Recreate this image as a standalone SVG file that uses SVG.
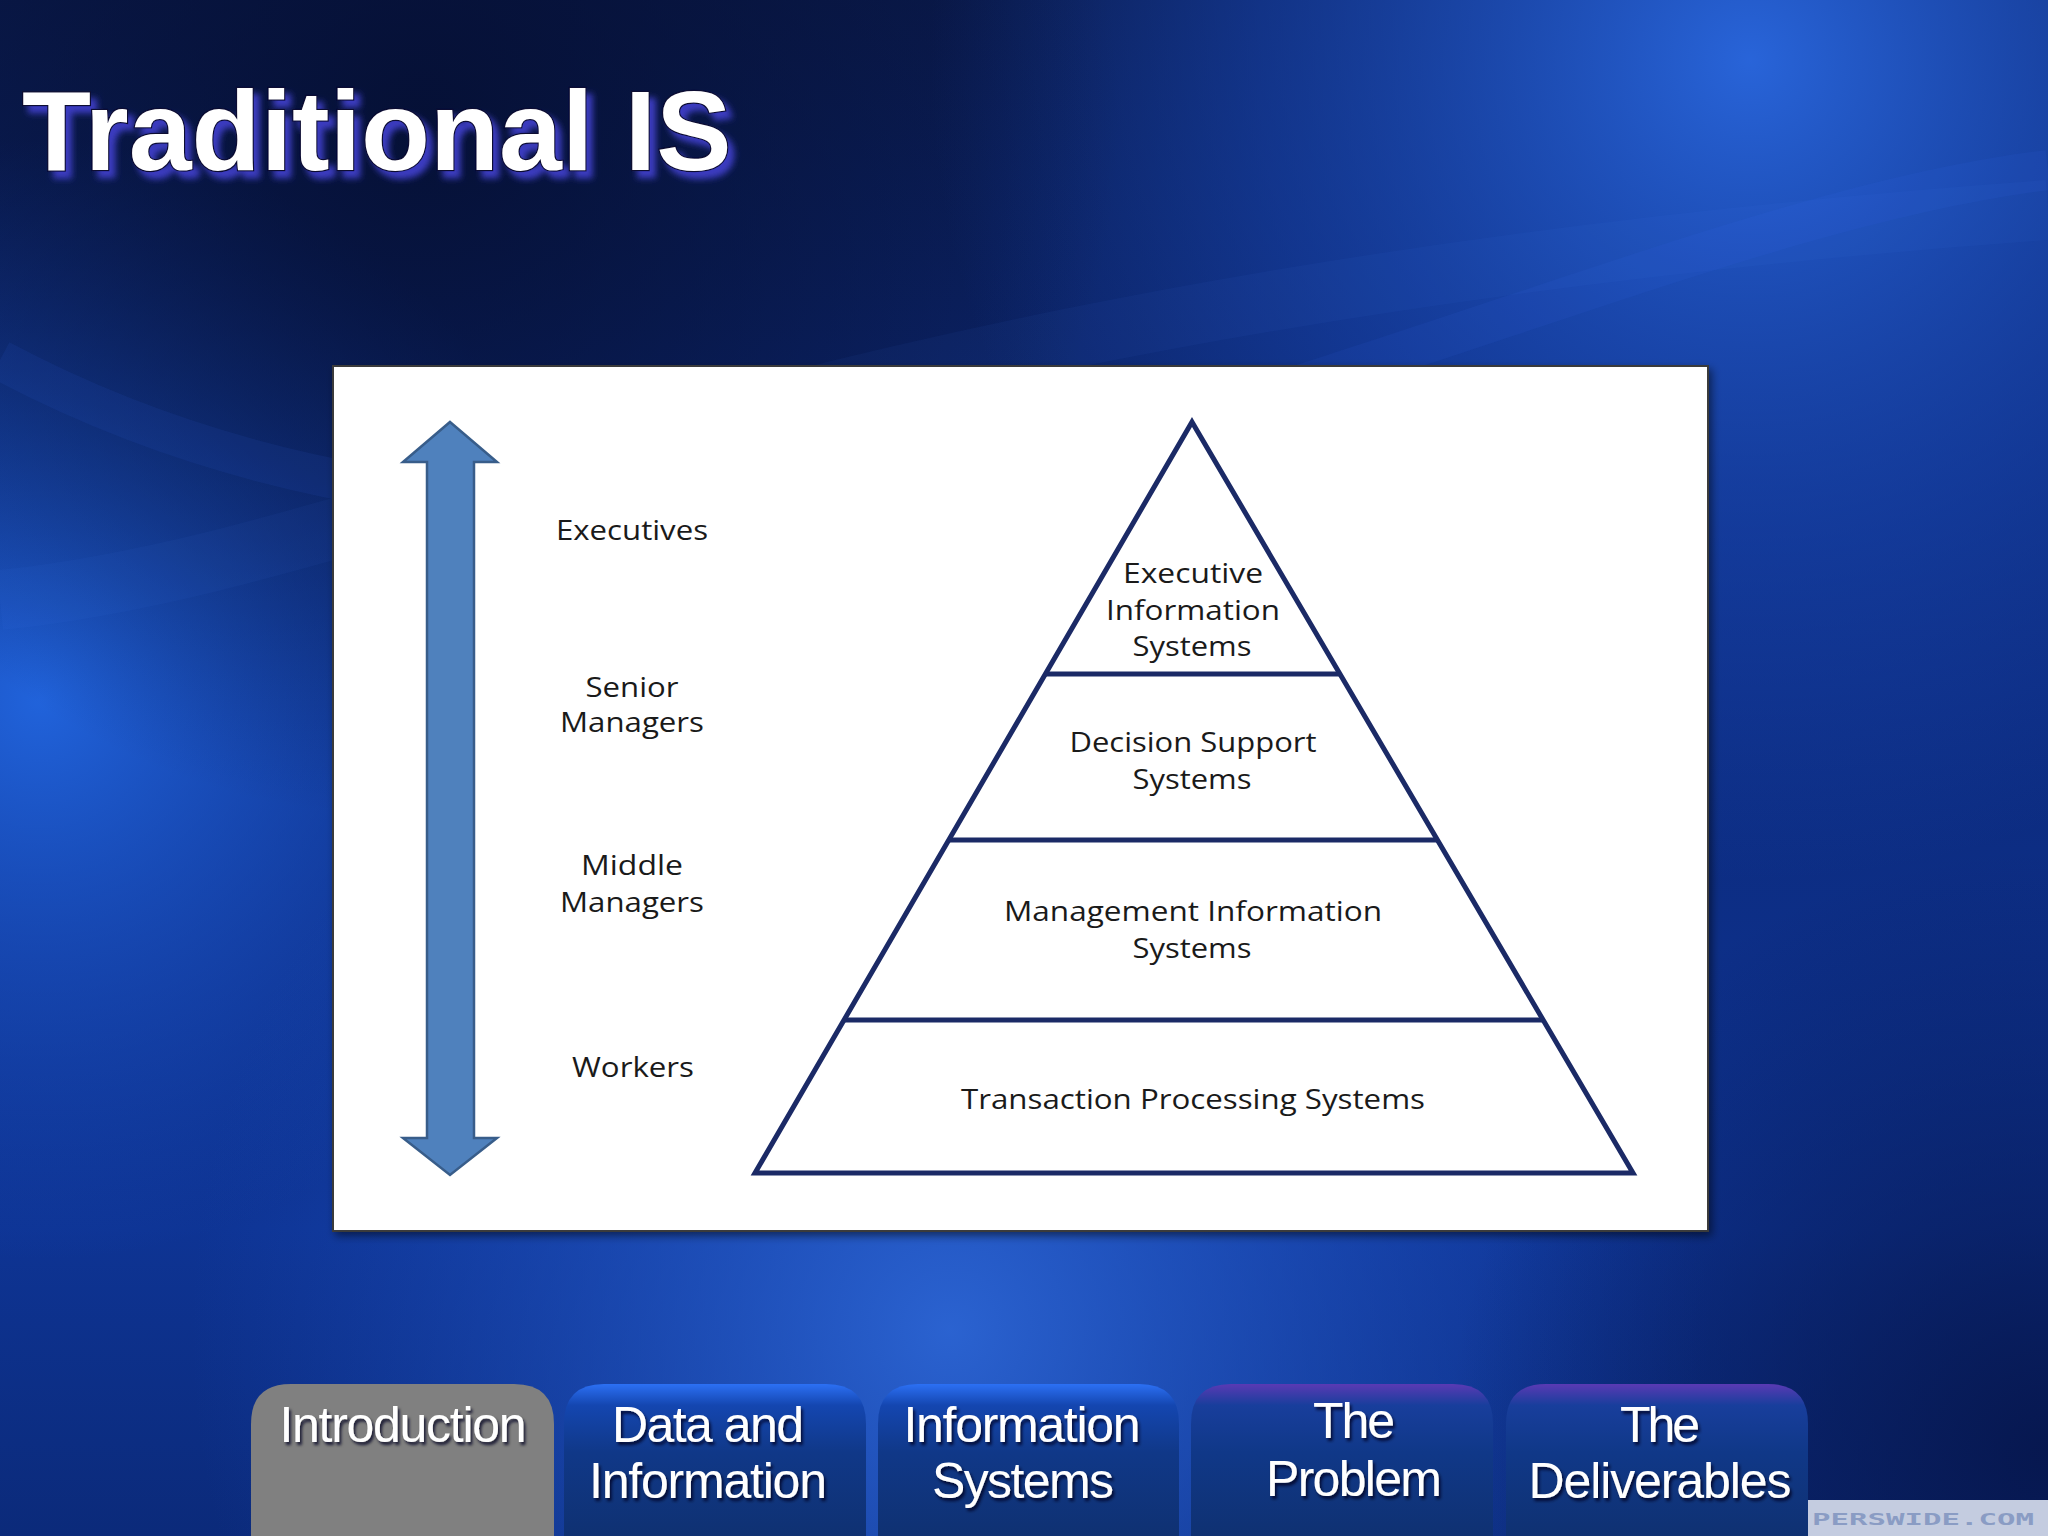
<svg xmlns="http://www.w3.org/2000/svg" width="2048" height="1536" viewBox="0 0 2048 1536">
<defs>
<linearGradient id="bgBase" x1="0" y1="0" x2="0" y2="1">
<stop offset="0" stop-color="#0a1a4c"/>
<stop offset="0.45" stop-color="#0c2a7c"/>
<stop offset="0.8" stop-color="#0e3494"/>
<stop offset="1" stop-color="#0b2a7a"/>
</linearGradient>
<radialGradient id="glowTR" cx="1750" cy="60" r="820" gradientUnits="userSpaceOnUse">
<stop offset="0" stop-color="#2a68e0" stop-opacity="0.95"/>
<stop offset="0.6" stop-color="#1a4cc0" stop-opacity="0.5"/>
<stop offset="1" stop-color="#1a4cc0" stop-opacity="0"/>
</radialGradient>
<radialGradient id="glowL" cx="40" cy="700" r="560" gradientUnits="userSpaceOnUse">
<stop offset="0" stop-color="#2266e0" stop-opacity="0.95"/>
<stop offset="1" stop-color="#1a50c8" stop-opacity="0"/>
</radialGradient>
<radialGradient id="glowB" cx="950" cy="1330" r="760" gradientUnits="userSpaceOnUse">
<stop offset="0" stop-color="#2e68d8" stop-opacity="0.9"/>
<stop offset="1" stop-color="#1a4cc0" stop-opacity="0"/>
</radialGradient>
<radialGradient id="darkTL" cx="420" cy="120" r="700" gradientUnits="userSpaceOnUse">
<stop offset="0" stop-color="#050f33" stop-opacity="0.9"/>
<stop offset="1" stop-color="#050f33" stop-opacity="0"/>
</radialGradient>
<radialGradient id="darkBR" cx="2048" cy="1450" r="600" gradientUnits="userSpaceOnUse">
<stop offset="0" stop-color="#06154a" stop-opacity="0.9"/>
<stop offset="1" stop-color="#06154a" stop-opacity="0"/>
</radialGradient>
<linearGradient id="tabBlue" x1="0" y1="0" x2="0" y2="1">
<stop offset="0" stop-color="#2c70f4"/>
<stop offset="0.14" stop-color="#1446b0"/>
<stop offset="0.45" stop-color="#103888"/>
<stop offset="1" stop-color="#0f3172"/>
</linearGradient>
<linearGradient id="tabPurple" x1="0" y1="0" x2="0" y2="1">
<stop offset="0" stop-color="#5a3ab4"/>
<stop offset="0.14" stop-color="#183e9c"/>
<stop offset="0.45" stop-color="#103888"/>
<stop offset="1" stop-color="#0f3172"/>
</linearGradient>
<filter id="titleShadow" x="-10%" y="-30%" width="120%" height="160%">
<feGaussianBlur in="SourceAlpha" stdDeviation="3"/>
<feOffset dx="6" dy="7" result="b"/>
<feFlood flood-color="#3c3cc0"/>
<feComposite in2="b" operator="in"/>
<feMerge><feMergeNode/><feMergeNode in="SourceGraphic"/></feMerge>
</filter>
<filter id="tabShadow" x="-10%" y="-30%" width="120%" height="160%">
<feGaussianBlur in="SourceAlpha" stdDeviation="1.5"/>
<feOffset dx="2" dy="3" result="b"/>
<feFlood flood-color="#000820" flood-opacity="0.8"/>
<feComposite in2="b" operator="in"/>
<feMerge><feMergeNode/><feMergeNode in="SourceGraphic"/></feMerge>
</filter>
<filter id="panelShadow" x="-5%" y="-5%" width="110%" height="110%">
<feGaussianBlur in="SourceAlpha" stdDeviation="4"/>
<feOffset dx="3" dy="4" result="b"/>
<feFlood flood-color="#000000" flood-opacity="0.5"/>
<feComposite in2="b" operator="in"/>
<feMerge><feMergeNode/><feMergeNode in="SourceGraphic"/></feMerge>
</filter>
</defs>
<style>
.title{font-family:"Liberation Sans",Arial,sans-serif;font-weight:bold;font-size:113px;fill:#ffffff;stroke:#0a0a30;stroke-width:2.5px;paint-order:stroke}
.lbl{font-family:"Open Sans","Noto Sans",sans-serif;font-size:28px;fill:#1a1a1a;text-anchor:middle}
.pyt{font-family:"Open Sans","Noto Sans",sans-serif;font-size:27px;fill:#1a1a1a;text-anchor:middle}
.tier{fill:none;stroke:#1b2a66;stroke-width:5px}
.tabt{font-family:"Liberation Sans",Arial,sans-serif;font-size:50px;fill:#ffffff;text-anchor:middle}
</style>

<!-- background -->
<rect x="0" y="0" width="2048" height="1536" fill="url(#bgBase)"/>
<rect x="0" y="0" width="2048" height="1536" fill="url(#glowTR)"/>
<rect x="0" y="0" width="2048" height="1536" fill="url(#glowL)"/>
<rect x="0" y="0" width="2048" height="1536" fill="url(#glowB)"/>
<rect x="0" y="0" width="2048" height="1536" fill="url(#darkTL)"/>
<rect x="0" y="0" width="2048" height="1536" fill="url(#darkBR)"/>
<path d="M0,360 C300,520 700,560 1150,430 C1500,330 1800,200 2048,170" fill="none" stroke="#3a78ff" stroke-opacity="0.08" stroke-width="40"/>
<path d="M0,600 C400,560 800,300 2048,210" fill="none" stroke="#5090ff" stroke-opacity="0.05" stroke-width="60"/>

<!-- title -->
<g id="title">
<text class="title" x="22" y="170" filter="url(#titleShadow)">Traditional IS</text>
</g>

<!-- panel -->
<g id="panel">
<rect x="333" y="366" width="1375" height="865" fill="#ffffff" stroke="#3a3a3a" stroke-width="2" filter="url(#panelShadow)"/>
</g>

<!-- double arrow -->
<g id="arrow">
<polygon points="450,422 497,462 474,462 474,1138 497,1138 450,1175 403,1138 427,1138 427,462 403,462" fill="#4f81bd" stroke="#385d8a" stroke-width="2.5" stroke-linejoin="miter"/>
</g>

<!-- left labels -->
<g id="label-executives"><text class="lbl" x="632" y="540" textLength="152" lengthAdjust="spacingAndGlyphs">Executives</text></g>
<g id="label-senior"><text class="lbl" x="632" y="697" textLength="93" lengthAdjust="spacingAndGlyphs">Senior</text><text class="lbl" x="632" y="732" textLength="144" lengthAdjust="spacingAndGlyphs">Managers</text></g>
<g id="label-middle"><text class="lbl" x="632" y="875" textLength="102" lengthAdjust="spacingAndGlyphs">Middle</text><text class="lbl" x="632" y="912" textLength="144" lengthAdjust="spacingAndGlyphs">Managers</text></g>
<g id="label-workers"><text class="lbl" x="633" y="1077" textLength="122" lengthAdjust="spacingAndGlyphs">Workers</text></g>

<!-- pyramid -->
<g id="pyramid">
<polygon class="tier" points="1192,422 1633,1173 755,1173"/>
<line class="tier" x1="1046" y1="674" x2="1340" y2="674"/>
<line class="tier" x1="949" y1="840" x2="1437" y2="840"/>
<line class="tier" x1="844" y1="1020" x2="1542" y2="1020"/>
</g>
<g id="tier-eis">
<text class="pyt" x="1193" y="583" textLength="140" lengthAdjust="spacingAndGlyphs">Executive</text>
<text class="pyt" x="1193" y="620" textLength="174" lengthAdjust="spacingAndGlyphs">Information</text>
<text class="pyt" x="1192" y="656" textLength="119" lengthAdjust="spacingAndGlyphs">Systems</text>
</g>
<g id="tier-dss">
<text class="pyt" x="1193" y="752" textLength="247" lengthAdjust="spacingAndGlyphs">Decision Support</text>
<text class="pyt" x="1192" y="789" textLength="119" lengthAdjust="spacingAndGlyphs">Systems</text>
</g>
<g id="tier-mis">
<text class="pyt" x="1193" y="921" textLength="378" lengthAdjust="spacingAndGlyphs">Management Information</text>
<text class="pyt" x="1192" y="958" textLength="119" lengthAdjust="spacingAndGlyphs">Systems</text>
</g>
<g id="tier-tps">
<text class="pyt" x="1193" y="1109" textLength="464" lengthAdjust="spacingAndGlyphs">Transaction Processing Systems</text>
</g>

<!-- logo strip -->
<g id="logo">
<rect x="1808" y="1500" width="240" height="36" fill="#c4cce0"/>
<text x="1812" y="1525" font-family="'DejaVu Sans Mono',monospace" font-weight="bold" font-size="15" fill="#8a9cc4" textLength="222" lengthAdjust="spacingAndGlyphs">PERSWIDE.COM</text>
</g>

<!-- tabs -->
<g id="tab-introduction">
<path d="M251,1536 L251,1424 Q251,1384 291,1384 L514,1384 Q554,1384 554,1424 L554,1536 Z" fill="#808080"/>
<text class="tabt" x="403" y="1442" textLength="247" filter="url(#tabShadow)">Introduction</text>
</g>
<g id="tab-data">
<path d="M564,1536 L564,1424 Q564,1384 604,1384 L826,1384 Q866,1384 866,1424 L866,1536 Z" fill="url(#tabBlue)"/>
<text class="tabt" x="708" y="1442" textLength="192" filter="url(#tabShadow)">Data and</text>
<text class="tabt" x="708" y="1498" textLength="238" filter="url(#tabShadow)">Information</text>
</g>
<g id="tab-is">
<path d="M878,1536 L878,1424 Q878,1384 918,1384 L1139,1384 Q1179,1384 1179,1424 L1179,1536 Z" fill="url(#tabBlue)"/>
<text class="tabt" x="1022" y="1442" textLength="237" filter="url(#tabShadow)">Information</text>
<text class="tabt" x="1023" y="1498" textLength="182" filter="url(#tabShadow)">Systems</text>
</g>
<g id="tab-problem">
<path d="M1191,1536 L1191,1424 Q1191,1384 1231,1384 L1453,1384 Q1493,1384 1493,1424 L1493,1536 Z" fill="url(#tabPurple)"/>
<text class="tabt" x="1354" y="1438" textLength="82" filter="url(#tabShadow)">The</text>
<text class="tabt" x="1354" y="1496" textLength="176" filter="url(#tabShadow)">Problem</text>
</g>
<g id="tab-deliverables">
<path d="M1506,1536 L1506,1424 Q1506,1384 1546,1384 L1768,1384 Q1808,1384 1808,1424 L1808,1536 Z" fill="url(#tabPurple)"/>
<text class="tabt" x="1660" y="1442" textLength="80" filter="url(#tabShadow)">The</text>
<text class="tabt" x="1660" y="1498" textLength="263" filter="url(#tabShadow)">Deliverables</text>
</g>
</svg>
